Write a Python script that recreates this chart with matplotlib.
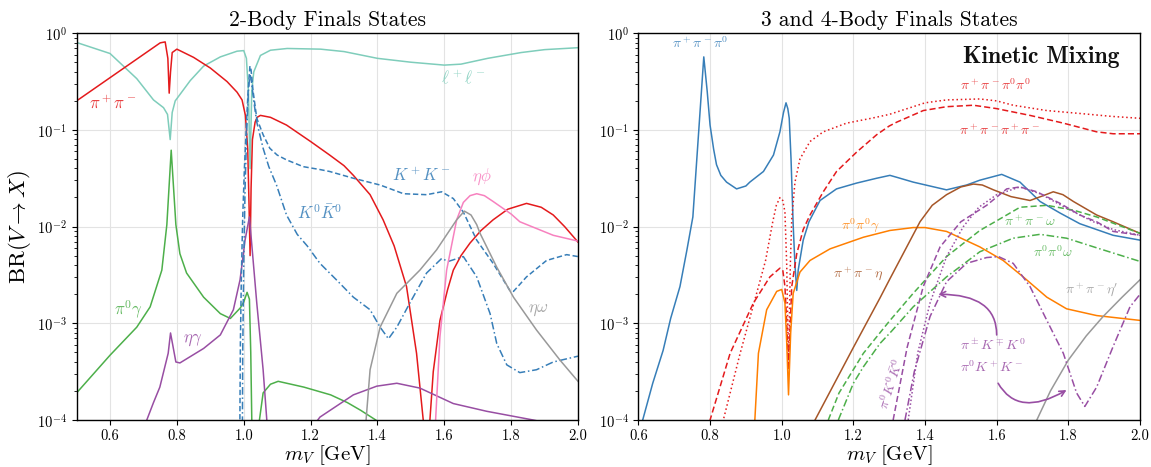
import numpy as np
import matplotlib
matplotlib.use("Agg")
import matplotlib.pyplot as plt
from matplotlib.ticker import NullFormatter, LogLocator

plt.rcParams['font.family'] = 'cmr10'
plt.rcParams['mathtext.fontset'] = 'cm'
plt.rcParams['axes.formatter.use_mathtext'] = True
plt.rcParams['axes.unicode_minus'] = False

# ---------------- colours ----------------
RED = '#e41a1c'; TURQ = '#7fcdbb'; BLUE = '#377eb8'; GREEN = '#4daf4a'
PURPLE = '#984ea3'; ORANGE = '#ff7f00'; BROWN = '#a65628'; PINK = '#f781bf'; GRAY = '#999999'

# ---------------- left panel data (m_V [GeV], log10 BR) ----------------
ll_m = [0.50, 0.60, 0.68, 0.73, 0.76, 0.772, 0.780, 0.786, 0.795, 0.84, 0.88, 0.93, 0.98, 1.0,
        1.008, 1.014, 1.019, 1.024, 1.03, 1.05, 1.08, 1.13, 1.23, 1.30, 1.40, 1.50, 1.60, 1.65,
        1.73, 1.83, 1.90, 2.00]
ll_log = [-0.096, -0.21, -0.47, -0.69, -0.77, -0.84, -1.10, -0.82, -0.70, -0.49, -0.34, -0.245,
          -0.186, -0.18, -0.26, -0.6, -1.4, -0.6, -0.4, -0.23, -0.176, -0.158, -0.165, -0.19,
          -0.26, -0.30, -0.33, -0.32, -0.26, -0.20, -0.17, -0.15]

pipi_m = [0.50, 0.55, 0.60, 0.65, 0.70, 0.75, 0.765, 0.773, 0.777, 0.781, 0.786, 0.80, 0.85,
          0.90, 0.95, 0.98, 0.995, 1.005, 1.012, 1.016, 1.019, 1.022, 1.026, 1.034, 1.04, 1.05,
          1.08, 1.128, 1.20, 1.257, 1.30, 1.328, 1.378, 1.417, 1.45, 1.487, 1.517, 1.537, 1.548,
          1.557, 1.567, 1.587, 1.61, 1.627, 1.65, 1.677, 1.71, 1.746, 1.79, 1.846, 1.89, 1.926,
          1.96, 2.00]
pipi_log = [-0.70, -0.58, -0.46, -0.34, -0.22, -0.10, -0.09, -0.26, -0.62, -0.40, -0.20, -0.165,
            -0.25, -0.36, -0.50, -0.61, -0.69, -0.85, -1.2, -1.8, -2.3, -1.6, -1.1, -0.92, -0.87,
            -0.85, -0.87, -0.95, -1.12, -1.26, -1.37, -1.47, -1.67, -1.93, -2.2, -2.62, -3.31,
            -4.0, -4.6, -4.0, -3.5, -2.97, -2.65, -2.45, -2.3, -2.17, -2.04, -1.93, -1.82, -1.76,
            -1.80, -1.88, -2.0, -2.16]

pi0g_m = [0.50, 0.60, 0.68, 0.72, 0.755, 0.770, 0.783, 0.797, 0.809, 0.829, 0.88, 0.93, 0.96,
          0.99, 1.0, 1.010, 1.017, 1.021, 1.025, 1.035, 1.047, 1.058, 1.08, 1.103, 1.18, 1.23,
          1.26, 1.31, 1.35, 1.395, 1.45]
pi0g_log = [-3.72, -3.33, -3.04, -2.83, -2.45, -1.98, -1.21, -1.98, -2.28, -2.48, -2.73, -2.90,
            -2.95, -2.84, -2.78, -2.68, -2.75, -3.3, -4.2, -5.0, -4.0, -3.72, -3.63, -3.60, -3.66,
            -3.71, -3.74, -3.82, -3.90, -4.0, -4.15]

etag_m = [0.71, 0.73, 0.749, 0.774, 0.781, 0.797, 0.809, 0.88, 0.93, 0.969, 0.989, 1.004, 1.017,
          1.039, 1.058, 1.069, 1.08, 1.20, 1.228, 1.328, 1.398, 1.458, 1.527, 1.627, 1.727,
          1.866, 2.0]
etag_log = [-4.0, -3.82, -3.66, -3.31, -3.10, -3.40, -3.41, -3.26, -3.12, -2.86, -2.55, -2.14,
            -1.90, -2.79, -3.48, -4.0, -4.5, -4.1, -3.97, -3.74, -3.65, -3.62, -3.67, -3.83,
            -3.91, -4.0, -4.1]

kpkm_m = [0.988, 0.9885, 0.990, 0.993, 0.997, 1.002, 1.008, 1.013, 1.0185, 1.022, 1.028, 1.039,
          1.058, 1.078, 1.10, 1.128, 1.178, 1.228, 1.257, 1.328, 1.408, 1.478, 1.547, 1.592,
          1.627, 1.657, 1.697, 1.746, 1.796, 1.807, 1.846, 1.906, 1.966, 2.0]
kpkm_log = [-4.5, -4.0, -3.2, -2.5, -1.9, -1.4, -0.95, -0.6, -0.34, -0.38, -0.6, -0.88, -1.05,
            -1.19, -1.26, -1.31, -1.38, -1.41, -1.43, -1.50, -1.57, -1.66, -1.67, -1.64, -1.71,
            -1.85, -2.14, -2.38, -2.66, -2.67, -2.52, -2.35, -2.29, -2.31]

k0k0_m = [0.9955, 0.997, 1.0, 1.004, 1.009, 1.014, 1.0185, 1.023, 1.03, 1.039, 1.058, 1.075,
          1.098, 1.128, 1.16, 1.19, 1.228, 1.28, 1.328, 1.378, 1.408, 1.433, 1.458, 1.497, 1.547,
          1.592, 1.612, 1.657, 1.697, 1.737, 1.757, 1.787, 1.826, 1.876, 1.926, 2.0]
k0k0_log = [-4.5, -3.3, -2.4, -1.6, -1.0, -0.6, -0.42, -0.5, -0.7, -0.92, -1.19, -1.38, -1.57,
            -1.88, -2.08, -2.20, -2.38, -2.56, -2.73, -2.86, -3.04, -3.16, -3.04, -2.79, -2.48,
            -2.33, -2.36, -2.31, -2.52, -2.90, -3.21, -3.43, -3.51, -3.48, -3.40, -3.34]

etaphi_m = [1.571, 1.574, 1.587, 1.607, 1.637, 1.657, 1.677, 1.697, 1.72, 1.746, 1.80, 1.826,
            1.926, 2.0]
etaphi_log = [-4.5, -4.0, -3.14, -2.45, -1.93, -1.75, -1.68, -1.66, -1.68, -1.74, -1.87, -1.95,
              -2.09, -2.15]

etaom_m = [1.358, 1.366, 1.378, 1.408, 1.458, 1.527, 1.577, 1.637, 1.66, 1.68, 1.697, 1.707,
           1.757, 1.807, 1.876, 1.946, 2.0]
etaom_log = [-4.5, -4.0, -3.48, -3.04, -2.69, -2.45, -2.24, -1.93, -1.84, -1.88, -1.98, -2.07,
             -2.42, -2.73, -3.07, -3.38, -3.60]

# ---------------- right panel data ----------------
p3_m = [0.605, 0.612, 0.64, 0.669, 0.69, 0.716, 0.735, 0.752, 0.7825, 0.792, 0.80, 0.81, 0.818,
        0.83, 0.846, 0.874, 0.90, 0.911, 0.949, 0.977, 0.995, 1.005, 1.012, 1.017, 1.021, 1.026,
        1.032, 1.037, 1.042, 1.046, 1.06, 1.076, 1.09, 1.107, 1.153, 1.209, 1.265, 1.302, 1.321,
        1.367, 1.46, 1.516, 1.553, 1.614, 1.665, 1.721, 1.777, 1.832, 1.925, 2.0]
p3_log = [-4.2, -4.0, -3.62, -3.28, -2.95, -2.62, -2.25, -1.90, -0.245, -0.6, -0.95, -1.2, -1.36,
          -1.47, -1.54, -1.61, -1.58, -1.54, -1.43, -1.26, -1.02, -0.82, -0.72, -0.78, -0.88,
          -1.3, -1.98, -2.4, -2.66, -2.45, -2.14, -1.95, -1.85, -1.73, -1.61, -1.55, -1.50, -1.47,
          -1.49, -1.54, -1.62, -1.57, -1.52, -1.46, -1.54, -1.74, -1.86, -1.97, -2.09, -2.14]

p4n_m = [0.83, 0.837, 0.884, 0.93, 0.955, 0.975, 0.985, 0.995, 1.003, 1.009, 1.014, 1.019,
         1.024, 1.028, 1.037, 1.051, 1.079, 1.116, 1.181, 1.25, 1.30, 1.367, 1.40, 1.46, 1.553,
         1.60, 1.646, 1.74, 1.832, 1.92, 2.0]
p4n_log = [-4.2, -4.0, -3.31, -2.69, -2.35, -1.95, -1.78, -1.70, -1.73, -1.85, -2.4, -3.48,
           -2.4, -1.92, -1.54, -1.30, -1.12, -1.02, -0.93, -0.88, -0.84, -0.76, -0.72, -0.69,
           -0.68, -0.70, -0.745, -0.80, -0.83, -0.86, -0.88]

p4c_m = [0.79, 0.80, 0.856, 0.921, 0.967, 0.995, 1.003, 1.009, 1.014, 1.019, 1.024, 1.028, 1.042,
         1.06, 1.079, 1.116, 1.153, 1.209, 1.265, 1.30, 1.321, 1.395, 1.46, 1.535, 1.60, 1.693,
         1.786, 1.879, 1.925, 2.0]
p4c_log = [-4.2, -4.0, -3.31, -2.79, -2.52, -2.43, -2.45, -2.62, -3.0, -3.48, -3.0, -2.62, -2.28,
           -2.03, -1.88, -1.64, -1.43, -1.23, -1.05, -0.96, -0.92, -0.80, -0.76, -0.745, -0.78,
           -0.85, -0.93, -1.02, -1.04, -1.04]

p00g_m = [0.924, 0.925, 0.935, 0.958, 0.986, 1.0, 1.009, 1.014, 1.019, 1.025, 1.032, 1.051, 1.079,
          1.135, 1.228, 1.302, 1.367, 1.40, 1.46, 1.553, 1.618, 1.674, 1.74, 1.795, 1.879, 2.0]
p00g_log = [-4.5, -4.0, -3.31, -2.86, -2.67, -2.65, -2.79, -3.2, -3.74, -3.1, -2.69, -2.47, -2.35,
            -2.23, -2.11, -2.04, -2.01, -2.01, -2.05, -2.21, -2.35, -2.52, -2.73, -2.85, -2.92,
            -2.97]

ppeta_m = [1.093, 1.20, 1.274, 1.302, 1.386, 1.42, 1.46, 1.50, 1.535, 1.56, 1.591, 1.64, 1.693,
           1.73, 1.758, 1.785, 1.814, 1.879, 1.925, 2.0]
ppeta_log = [-4.0, -3.25, -2.74, -2.54, -1.95, -1.78, -1.67, -1.59, -1.56, -1.57, -1.62, -1.69,
             -1.73, -1.68, -1.64, -1.67, -1.74, -1.88, -1.95, -2.07]

ppom_m = [1.13, 1.16, 1.228, 1.30, 1.367, 1.46, 1.553, 1.60, 1.665, 1.74, 1.814, 1.879, 2.0]
ppom_log = [-4.0, -3.72, -3.31, -2.98, -2.69, -2.31, -2.04, -1.94, -1.80, -1.78, -1.83, -1.90,
            -2.07]

p00om_m = [1.158, 1.20, 1.228, 1.274, 1.307, 1.367, 1.46, 1.553, 1.646, 1.721, 1.795, 1.888, 2.0]
p00om_log = [-4.0, -3.62, -3.45, -3.21, -3.08, -2.83, -2.52, -2.26, -2.12, -2.08, -2.12, -2.23,
             -2.36]

ppetap_m = [1.712, 1.75, 1.80, 1.85, 1.897, 1.95, 2.0]
ppetap_log = [-4.0, -3.7, -3.38, -3.13, -2.93, -2.73, -2.55]

k0k0pi_m = [1.311, 1.35, 1.395, 1.442, 1.50, 1.572, 1.628, 1.665, 1.712, 1.777, 1.832, 1.879,
            1.925, 2.0]
k0k0pi_log = [-4.0, -3.25, -2.62, -2.21, -1.95, -1.78, -1.61, -1.59, -1.64, -1.76, -1.88, -1.95,
              -2.05, -2.09]

kk0pi_m = [1.353, 1.38, 1.414, 1.46, 1.507, 1.55, 1.60, 1.665, 1.721, 1.795, 1.87, 1.925, 2.0]
kk0pi_log = [-4.0, -3.3, -2.79, -2.31, -2.0, -1.8, -1.67, -1.59, -1.66, -1.81, -1.95, -2.03,
             -2.09]

kkpi0_m = [1.344, 1.37, 1.414, 1.46, 1.516, 1.572, 1.605, 1.646, 1.693, 1.74, 1.786, 1.823,
           1.846, 1.879, 1.925, 1.972, 2.0]
kkpi0_log = [-4.0, -3.5, -2.93, -2.57, -2.38, -2.32, -2.31, -2.38, -2.62, -2.97, -3.31, -3.72,
             -3.86, -3.66, -3.24, -2.83, -2.70]

# ---------------- axes text ----------------
xticks = [0.6, 0.8, 1.0, 1.2, 1.4, 1.6, 1.8, 2.0]
xticklabels = ['0.6', '0.8', '1.0', '1.2', '1.4', '1.6', '1.8', '2.0']
yticks = [1.0, 1e-1, 1e-2, 1e-3, 1e-4]
yticklabels = [r'$10^{0}$', r'$10^{-1}$', r'$10^{-2}$', r'$10^{-3}$', r'$10^{-4}$']


def br(v):
    return 10.0 ** np.asarray(v, dtype=float)


fig = plt.figure(figsize=(11.51, 4.67), dpi=100)
axL = fig.add_axes([0.06655, 0.10064, 0.43562, 0.82827])
axR = fig.add_axes([0.55465, 0.10064, 0.43579, 0.82827])

LW = 1.1
# left panel
axL.plot(ll_m, br(ll_log), color=TURQ, lw=LW)
axL.plot(pipi_m, br(pipi_log), color=RED, lw=LW)
axL.plot(pi0g_m, br(pi0g_log), color=GREEN, lw=LW)
axL.plot(etag_m, br(etag_log), color=PURPLE, lw=LW)
axL.plot(kpkm_m, br(kpkm_log), color=BLUE, lw=LW, ls=(0, (3.5, 1.8)))
axL.plot(k0k0_m, br(k0k0_log), color=BLUE, lw=LW, ls=(0, (5, 1.8, 1, 1.8)))
axL.plot(etaphi_m, br(etaphi_log), color=PINK, lw=LW)
axL.plot(etaom_m, br(etaom_log), color=GRAY, lw=LW)

# right panel
axR.plot(p3_m, br(p3_log), color=BLUE, lw=LW)
axR.plot(p4n_m, br(p4n_log), color=RED, lw=LW, ls=(0, (1, 1.8)))
axR.plot(p4c_m, br(p4c_log), color=RED, lw=LW, ls=(0, (4, 2)))
axR.plot(p00g_m, br(p00g_log), color=ORANGE, lw=LW)
axR.plot(ppeta_m, br(ppeta_log), color=BROWN, lw=LW)
axR.plot(ppom_m, br(ppom_log), color=GREEN, lw=LW, ls=(0, (4, 2)))
axR.plot(p00om_m, br(p00om_log), color=GREEN, lw=LW, ls=(0, (5, 1.8, 1, 1.8)))
axR.plot(ppetap_m, br(ppetap_log), color=GRAY, lw=LW)
axR.plot(k0k0pi_m, br(k0k0pi_log), color=PURPLE, lw=LW, ls=(0, (4, 2)))
axR.plot(kk0pi_m, br(kk0pi_log), color=PURPLE, lw=LW, ls=(0, (1, 1.5)))
axR.plot(kkpi0_m, br(kkpi0_log), color=PURPLE, lw=LW, ls=(0, (5, 1.8, 1, 1.8)))

for ax, xl in ((axL, (0.5, 2.0)), (axR, (0.6, 2.0))):
    ax.set_yscale('log')
    ax.set_xlim(*xl)
    ax.set_ylim(1e-4, 1.0)
    ax.set_xticks(xticks)
    ax.set_xticklabels(xticklabels)
    ax.set_yticks(yticks)
    ax.set_yticklabels(yticklabels)
    ax.yaxis.set_minor_locator(LogLocator(base=10, subs=np.arange(2, 10), numticks=20))
    ax.yaxis.set_minor_formatter(NullFormatter())
    ax.tick_params(axis='both', which='major', labelsize=10.5, length=3.5, width=0.8)
    ax.tick_params(axis='y', which='minor', length=2, width=0.6)
    ax.grid(True, which='major', color='#e3e3e3', lw=0.8)
    ax.set_axisbelow(True)
    ax.set_xlabel(r'$m_V\ [\mathrm{GeV}]$', fontsize=15, labelpad=0)
    for s in ax.spines.values():
        s.set_linewidth(1.0)

axL.set_ylabel(r'$\mathrm{BR}(V\to X)$', fontsize=16.5, labelpad=3)
axL.set_title('2-Body Finals States', fontsize=15.5, pad=5)
axR.set_title('3 and 4-Body Finals States', fontsize=15.5, pad=5)


def lab(ax, m, lg, s, c, fs, **kw):
    ax.text(m, 10.0 ** lg, s, color=c, fontsize=fs, ha='center', va='center', alpha=0.85, **kw)


FL = 12
lab(axL, 0.609, -0.71, r'$\pi^+\pi^-$', RED, FL)
lab(axL, 1.656, -0.45, r'$\ell^+\ell^-$', TURQ, FL)
lab(axL, 1.530, -1.465, r'$K^+K^-$', BLUE, FL)
lab(axL, 1.713, -1.48, r'$\eta\phi$', PINK, FL)
lab(axL, 1.228, -1.86, r'$K^0\bar{K}^0$', BLUE, FL)
lab(axL, 0.654, -2.86, r'$\pi^0\gamma$', GREEN, FL)
lab(axL, 0.848, -3.17, r'$\eta\gamma$', PURPLE, FL)
lab(axL, 1.880, -2.87, r'$\eta\omega$', GRAY, FL)

FR = 10
lab(axR, 0.772, -0.11, r'$\pi^+\pi^-\pi^0$', BLUE, FR)
lab(axR, 1.598, -0.54, r'$\pi^+\pi^-\pi^0\pi^0$', RED, FR)
lab(axR, 1.609, -1.01, r'$\pi^+\pi^-\pi^+\pi^-$', RED, FR)
lab(axR, 1.218, -1.985, r'$\pi^0\pi^0\gamma$', ORANGE, FR)
lab(axR, 1.213, -2.49, r'$\pi^+\pi^-\eta$', BROWN, FR)
lab(axR, 1.693, -1.945, r'$\pi^+\pi^-\omega$', GREEN, FR)
lab(axR, 1.757, -2.26, r'$\pi^0\pi^0\omega$', GREEN, FR)
lab(axR, 1.866, -2.66, r"$\pi^+\pi^-\eta'$", GRAY, FR)
lab(axR, 1.588, -3.23, r'$\pi^\pm K^\mp K^0$', PURPLE, FR)
lab(axR, 1.587, -3.45, r'$\pi^0K^+K^-$', PURPLE, FR)
lab(axR, 1.308, -3.63, r'$\pi^0K^0\bar{K}^0$', PURPLE, FR, rotation=72)

axR.text(1.724, 10.0 ** -0.25, 'Kinetic Mixing', fontsize=17, family='cmb10',
         ha='center', va='center', color='#111111')

axR.annotate('', xy=(1.437, 10.0 ** -2.70), xytext=(1.600, 10.0 ** -3.12),
             arrowprops=dict(arrowstyle='->', color=PURPLE, lw=1.2, shrinkA=0, shrinkB=0,
                             connectionstyle='angle3,angleA=90,angleB=0'))
axR.annotate('', xy=(1.795, 10.0 ** -3.69), xytext=(1.604, 10.0 ** -3.62),
             arrowprops=dict(arrowstyle='->', color=PURPLE, lw=1.2, shrinkA=0, shrinkB=0,
                             connectionstyle='angle3,angleA=-60,angleB=30'))

fig.savefig('out.png', dpi=100)
